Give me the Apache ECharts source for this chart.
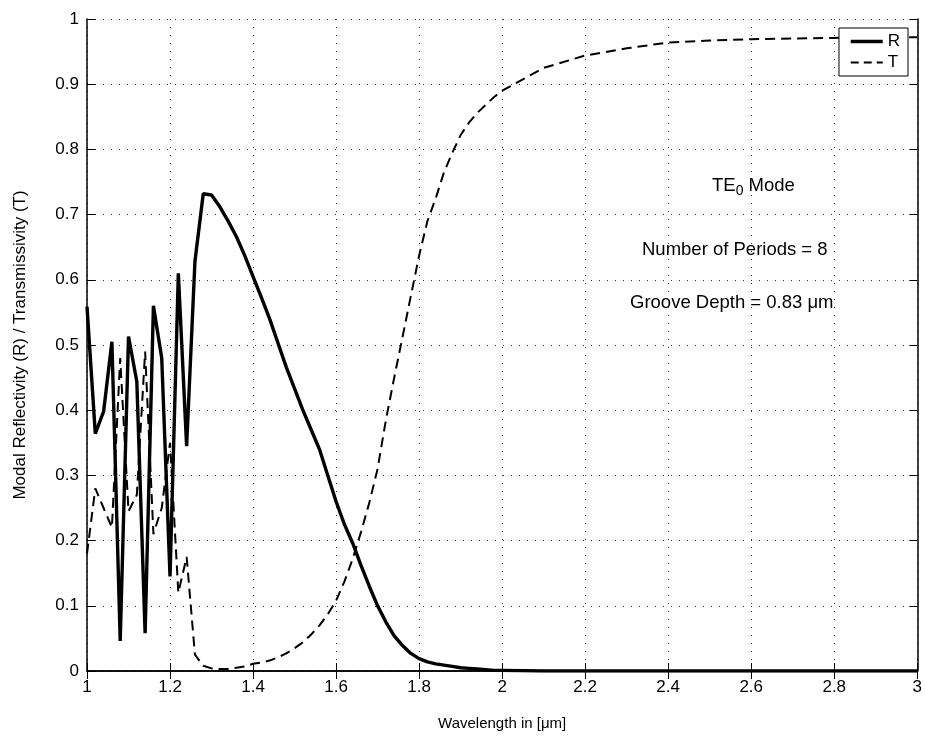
<!DOCTYPE html>
<html>
<head>
<meta charset="utf-8">
<script src="https://cdn.jsdelivr.net/npm/echarts@6/dist/echarts.min.js"></script>
<style>html,body{margin:0;padding:0;background:#fff;}#c{width:925px;height:736px;}</style>
</head>
<body>
<div id="c"></div>
<script>
// Wavelength samples (µm)
const wavelength = [
  1.00,1.02,1.04,1.06,1.08,1.10,1.12,1.14,1.16,1.18,
  1.20,1.22,1.24,1.26,1.28,1.30,1.32,1.34,1.36,1.38,
  1.40,1.42,1.44,1.46,1.48,1.50,1.52,1.54,1.56,1.58,
  1.60,1.62,1.64,1.66,1.68,1.70,1.72,1.74,1.76,1.78,
  1.80,1.82,1.84,1.86,1.88,1.90,1.92,1.94,1.96,1.98,
  2.00,2.1,2.2,2.3,2.4,2.5,2.6,2.7,2.8,2.9,3.0
];
// Modal reflectivity R
const reflectivity = [
  0.559,0.364,0.398,0.505,0.046,0.513,0.444,0.058,0.560,0.480,
  0.145,0.610,0.345,0.628,0.732,0.730,0.712,0.690,0.666,0.637,
  0.605,0.573,0.540,0.503,0.466,0.433,0.400,0.370,0.340,0.300,
  0.260,0.225,0.196,0.162,0.130,0.100,0.075,0.054,0.039,0.027,
  0.019,0.014,0.011,0.009,0.007,0.005,0.004,0.003,0.002,0.001,
  0.001,0,0,0,0,0,0,0,0,0,0
];
// Transmissivity T
const transmissivity = [
  0.18,0.28,0.25,0.22,0.48,0.245,0.27,0.49,0.21,0.25,
  0.35,0.12,0.175,0.025,0.008,0.004,0.003,0.003,0.005,0.007,
  0.011,0.013,0.016,0.021,0.027,0.035,0.044,0.056,0.070,0.087,
  0.108,0.137,0.172,0.213,0.258,0.310,0.385,0.450,0.512,0.575,
  0.637,0.690,0.725,0.765,0.795,0.822,0.841,0.856,0.868,0.880,
  0.890,0.925,0.944,0.955,0.964,0.967,0.969,0.970,0.971,0.972,0.972
];
const seriesNames = ['R', 'T'];
const annotations = ['Number of Periods = 8', 'Groove Depth = 0.83 \u03bcm'];

const FONT = '"Liberation Sans", Arial, Helvetica, sans-serif';
const pairs = (ys) => wavelength.map((x, i) => [x, ys[i]]);

const chart = echarts.init(document.getElementById('c'), null, {renderer: 'canvas'});
const axisLineStyle = {color: '#000', width: 1.5};
const gridDots = {color: '#333', width: 1, type: [1, 7]};
const tickStyle = {show: true, inside: true, length: 8, lineStyle: {color: '#000', width: 1}};

chart.setOption({
  animation: false,
  backgroundColor: '#fff',
  grid: {left: 87, right: 6, top: 19, bottom: 63, containLabel: false},
  xAxis: [{
    type: 'value', min: 1, max: 3, interval: 0.2,
    name: 'Wavelength in [\u03bcm]', nameLocation: 'middle', nameGap: 45,
    nameTextStyle: {fontFamily: FONT, fontSize: 15, color: '#000'},
    axisLine: {show: true, lineStyle: axisLineStyle},
    axisTick: tickStyle,
    axisLabel: {fontFamily: FONT, fontSize: 17, color: '#000', margin: 8},
    splitLine: {show: true, lineStyle: gridDots}
  }, {
    type: 'value', min: 1, max: 3, interval: 0.2, position: 'top',
    axisLine: {show: true, lineStyle: axisLineStyle},
    axisTick: tickStyle,
    axisLabel: {show: false}, splitLine: {show: false}
  }],
  yAxis: [{
    type: 'value', min: 0, max: 1, interval: 0.1,
    name: 'Modal Reflectivity (R) / Transmissivity (T)', nameLocation: 'middle', nameGap: 58,
    nameTextStyle: {fontFamily: FONT, fontSize: 17, color: '#000'},
    axisLine: {show: true, lineStyle: axisLineStyle},
    axisTick: tickStyle,
    axisLabel: {fontFamily: FONT, fontSize: 17, color: '#000', margin: 8},
    splitLine: {show: true, lineStyle: gridDots}
  }, {
    type: 'value', min: 0, max: 1, interval: 0.1, position: 'right',
    axisLine: {show: true, lineStyle: axisLineStyle},
    axisTick: tickStyle,
    axisLabel: {show: false}, splitLine: {show: false}
  }],
  legend: {
    data: [
      {name: seriesNames[0], lineStyle: {width: 3.5, type: 'solid', color: '#000'}},
      {name: seriesNames[1], lineStyle: {width: 2, type: [8, 5], color: '#000'}}
    ],
    orient: 'vertical', right: 17, top: 28,
    backgroundColor: '#fff', borderColor: '#000', borderWidth: 1,
    padding: [5, 8, 5, 10], itemGap: 4, itemWidth: 32, itemHeight: 18,
    itemStyle: {color: 'rgba(0,0,0,0)', borderColor: 'rgba(0,0,0,0)', borderWidth: 0, opacity: 0},
    textStyle: {fontFamily: FONT, fontSize: 17, color: '#000'}
  },
  series: [{
    name: seriesNames[0], type: 'line', data: pairs(reflectivity),
    showSymbol: false, symbol: 'none', smooth: false,
    lineStyle: {color: '#000', width: 3.4, type: 'solid'}, itemStyle: {color: '#000'},
    z: 3
  }, {
    name: seriesNames[1], type: 'line', data: pairs(transmissivity),
    showSymbol: false, symbol: 'none', smooth: false,
    lineStyle: {color: '#000', width: 2, type: [10, 6]}, itemStyle: {color: '#000'},
    z: 2
  }],
  graphic: [{
    type: 'text', left: 712, top: 176,
    style: {
      text: '{a|TE}{b|0}{a| Mode}',
      rich: {
        a: {fontFamily: FONT, fontSize: 18.5, fill: '#000', color: '#000'},
        b: {fontFamily: FONT, fontSize: 14, fill: '#000', color: '#000', padding: [12, 0, 0, 0]}
      }
    }
  }, {
    type: 'text', left: 642, top: 240,
    style: {text: annotations[0], font: '18.5px ' + FONT, fill: '#000'}
  }, {
    type: 'text', left: 630, top: 293,
    style: {text: annotations[1], font: '18.5px ' + FONT, fill: '#000'}
  }]
});
</script>
</body>
</html>
